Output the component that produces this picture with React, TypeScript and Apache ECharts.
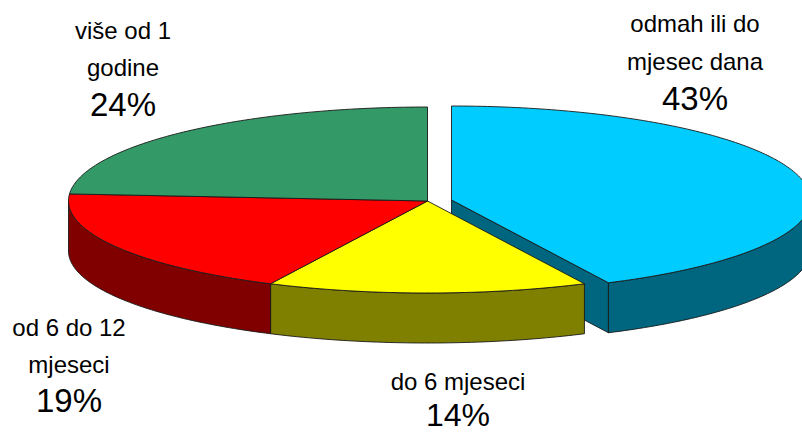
import React, { useEffect, useRef } from "react";
import * as echarts from "echarts";

const categories = [["odmah ili do", "mjesec dana"], ["do 6 mjeseci"], ["od 6 do 12", "mjeseci"], ["više od 1", "godine"]];
const shares = [42.8, 14.4, 19, 23.8];
const topColors = ["#00CCFF", "#FFFF00", "#FF0000", "#339966"];
const wallColors = ["#006680", "#808000", "#800000", "#1F5C3D"];
const explodeX = [24, 0, 0, 0];
const explodeY = [-1, 0, 0, 0];
const labelX = [695, 458, 69, 123];
const labelTop = [23.5, 381, 327, 30];
const percentY = [98, 414.5, 400.5, 104.5];
const percentSize = [33, 32, 33, 33];

const CX = 427.5, CY = 201, RX = 359, RY_BACK = 94, RY_FRONT = 92, DEPTH = 50;
const LINE = { stroke: "#1a1a1a", lineWidth: 0.9, lineJoin: "round" as const };

const pt = (t: number, ox: number, oy: number) => {
  const c = Math.cos(t);
  return [CX + ox + RX * Math.sin(t), CY + oy - (c > 0 ? RY_BACK : RY_FRONT) * c];
};

function renderSlice(params: any) {
  const i = params.dataIndex;
  const total = shares.reduce((a, b) => a + b, 0);
  const before = shares.slice(0, i).reduce((a, b) => a + b, 0);
  const a0 = (before / total) * 2 * Math.PI;
  const a1 = ((before + shares[i]) / total) * 2 * Math.PI;
  const ox = explodeX[i], oy = explodeY[i];
  const arc = (from: number, to: number, dy: number) => {
    const n = Math.max(2, Math.ceil((to - from) * 60));
    const out: number[][] = [];
    for (let k = 0; k <= n; k++) out.push(pt(from + ((to - from) * k) / n, ox, oy + dy));
    return out;
  };
  const children: any[] = [];
  const apex = [CX + ox, CY + oy];
  if (ox !== 0) {
    const end = pt(a1, ox, oy);
    children.push({
      type: "polygon",
      shape: { points: [apex, end, [end[0], end[1] + DEPTH], [apex[0], apex[1] + DEPTH]] },
      style: { fill: wallColors[i], ...LINE },
    });
  }
  const w0 = Math.max(a0, Math.PI / 2);
  const w1 = Math.min(a1, 1.5 * Math.PI);
  if (w1 > w0) {
    children.push({
      type: "polygon",
      shape: { points: [...arc(w0, w1, 0), ...arc(w0, w1, DEPTH).reverse()] },
      style: { fill: wallColors[i], ...LINE },
    });
  }
  children.push({
    type: "polygon",
    shape: { points: [apex, ...arc(a0, a1, 0)] },
    style: { fill: topColors[i], ...LINE },
  });
  return { type: "group", children };
}

export default function App() {
  const ref = useRef<HTMLDivElement>(null);
  useEffect(() => {
    const chart = echarts.init(ref.current!, undefined, { renderer: "svg" });
    const font = "'Liberation Sans', Arial, sans-serif";
    const graphics: any[] = [];
    categories.forEach((lines, i) => {
      let y = labelTop[i];
      lines.forEach((line) => {
        graphics.push({
          type: "text", x: labelX[i], y,
          style: { text: line, fontFamily: font, fontSize: 24, fill: "#000", align: "center", verticalAlign: "middle" },
        });
        y += 37.5;
      });
      graphics.push({
        type: "text", x: labelX[i], y: percentY[i],
        style: { text: `${Math.round(shares[i])}%`, fontFamily: font, fontSize: percentSize[i], lineHeight: 30, fill: "#000", align: "center", verticalAlign: "middle" },
      });
    });
    chart.setOption({
      animation: false,
      backgroundColor: "#fff",
      graphic: graphics,
      series: [{
        type: "custom",
        coordinateSystem: "none",
        renderItem: renderSlice,
        silent: true,
        data: shares.map((v, i) => ({ value: [v], name: categories[i].join(" ") })),
      }],
    });
    return () => chart.dispose();
  }, []);
  return <div ref={ref} style={{ position: "absolute", left: 0, top: 0, width: 802, height: 433, overflow: "hidden" }} />;
}
